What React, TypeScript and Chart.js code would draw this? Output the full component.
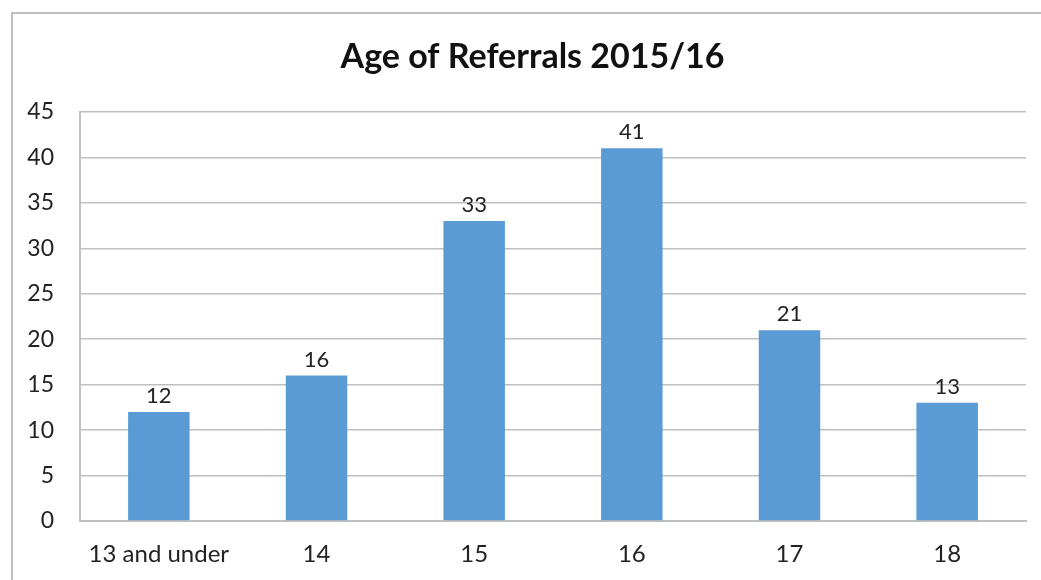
import React, { useEffect, useRef } from "react";
import { Chart, registerables } from "chart.js";

Chart.register(...registerables);

const categories = ["13 and under", "14", "15", "16", "17", "18"];
const referrals = [12, 16, 33, 41, 21, 13];
const titleText = "Age of Referrals 2015/16";

const FONT = "Lato, 'Open Sans', sans-serif";
const TITLE_FONT = `bold 34px ${FONT}`;

const valueLabels = {
  id: "valueLabels",
  afterDatasetsDraw(chart: any) {
    const ctx = chart.ctx;
    const meta = chart.getDatasetMeta(0);
    ctx.save();
    ctx.font = `22px ${FONT}`;
    ctx.fillStyle = "#222";
    ctx.textAlign = "center";
    ctx.textBaseline = "alphabetic";
    meta.data.forEach((el: any, i: number) => {
      ctx.fillText(String(chart.data.datasets[0].data[i]), el.x, el.y - 9);
    });
    ctx.restore();
  },
};

// Title centred on the outer frame (frame spans wider than the canvas)
const frameTitle = {
  id: "frameTitle",
  afterDraw(chart: any) {
    const ctx = chart.ctx;
    ctx.save();
    ctx.font = TITLE_FONT;
    ctx.fillStyle = "#111";
    ctx.textAlign = "center";
    ctx.textBaseline = "middle";
    ctx.fillText(titleText, chart.width / 2 + 12, 57);
    ctx.restore();
  },
};

export default function App() {
  const ref = useRef<HTMLCanvasElement>(null);
  useEffect(() => {
    document.body.style.margin = "0";
    const chart = new Chart(ref.current!, {
      type: "bar",
      data: {
        labels: categories,
        datasets: [
          {
            data: referrals,
            backgroundColor: "#5B9BD5",
            barPercentage: 0.39,
            categoryPercentage: 1,
          },
        ],
      },
      options: {
        animation: false,
        responsive: false,
        layout: { padding: { left: 0, right: 15, top: 112, bottom: 0 } },
        plugins: {
          legend: { display: false },
          tooltip: { enabled: false },
          title: { display: false },
        },
        scales: {
          x: {
            grid: { display: false, drawTicks: false },
            border: { color: "#bfbfbf", width: 2 },
            ticks: { color: "#222", font: { family: FONT, size: 24 }, padding: 19 },
            afterFit(scale: any) {
              scale.height = 59;
            },
          },
          y: {
            min: 0,
            max: 45,
            ticks: { stepSize: 5, color: "#222", font: { family: FONT, size: 23 }, padding: 26 },
            grid: { color: "#bfbfbf", lineWidth: 1.5, drawTicks: false },
            border: { color: "#bfbfbf", width: 2 },
            afterFit(scale: any) {
              scale.width = 80;
            },
          },
        },
      },
      plugins: [valueLabels, frameTitle],
    });
    return () => chart.destroy();
  }, []);
  return (
    <div style={{ position: "relative", width: 1041, height: 580, overflow: "hidden", background: "#fff" }}>
      <div
        style={{
          position: "absolute",
          left: 11,
          top: 12,
          width: 1100,
          height: 700,
          borderLeft: "2px solid #bfbfbf",
          borderTop: "2px solid #bfbfbf",
          boxSizing: "border-box",
        }}
      />
      <canvas ref={ref} width={1041} height={580} style={{ position: "absolute", left: 0, top: 0 }} />
    </div>
  );
}
